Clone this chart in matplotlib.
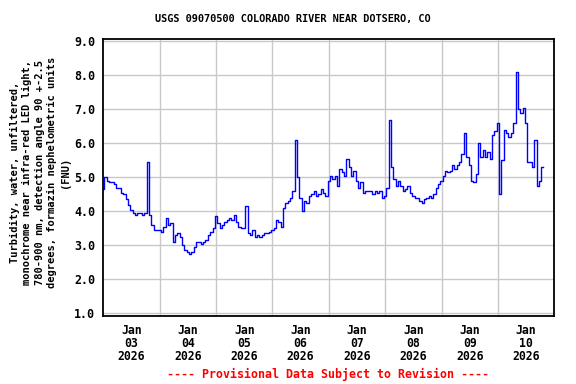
import matplotlib

matplotlib.use("Agg")
import matplotlib.dates as mdates
import matplotlib.pyplot as plt
import pandas as pd

# Hourly turbidity (FNU), one list per day.
jan03 = [4.65, 5.0, 4.9, 4.85, 4.85, 4.8, 4.7, 4.7, 4.55, 4.5, 4.35, 4.2,
	4.05, 3.95, 3.9, 3.95, 3.95, 3.9, 3.95, 5.45, 3.9, 3.6, 3.45, 3.45]
jan04 = [3.45, 3.4, 3.55, 3.8, 3.6, 3.65, 3.1, 3.3, 3.35, 3.25, 3.0, 2.85,
	2.8, 2.75, 2.8, 2.95, 3.1, 3.1, 3.05, 3.1, 3.15, 3.3, 3.4, 3.5]
jan05 = [3.85, 3.65, 3.5, 3.6, 3.7, 3.75, 3.8, 3.75, 3.9, 3.7, 3.55, 3.5,
	3.5, 4.15, 3.35, 3.3, 3.45, 3.25, 3.3, 3.25, 3.3, 3.35, 3.35, 3.4]
jan06 = [3.45, 3.5, 3.75, 3.7, 3.55, 4.1, 4.25, 4.3, 4.4, 4.6, 6.1, 5.0,
	4.4, 4.0, 4.3, 4.25, 4.45, 4.5, 4.6, 4.45, 4.5, 4.65, 4.55, 4.45]
jan07 = [4.9, 5.05, 4.95, 5.05, 4.75, 5.25, 5.15, 5.05, 5.55, 5.3, 5.05, 5.2,
	4.9, 4.7, 4.85, 4.55, 4.6, 4.6, 4.6, 4.5, 4.6, 4.55, 4.6, 4.4]
jan08 = [4.45, 4.7, 6.7, 5.3, 4.95, 4.75, 4.9, 4.75, 4.6, 4.65, 4.75, 4.55,
	4.45, 4.4, 4.4, 4.3, 4.25, 4.35, 4.4, 4.45, 4.4, 4.5, 4.7, 4.8]
jan09 = [4.9, 5.05, 5.2, 5.15, 5.2, 5.35, 5.25, 5.35, 5.45, 5.7, 6.3, 5.6,
	5.35, 4.9, 4.85, 5.1, 6.0, 5.6, 5.8, 5.6, 5.75, 5.55, 6.25, 6.35]
jan10 = [6.6, 4.5, 5.5, 6.4, 6.3, 6.2, 6.3, 6.6, 8.1, 7.0, 6.9, 7.05,
	6.6, 5.45, 5.45, 5.3, 6.1, 4.75, 4.9, 5.3]

day_labels = ["Jan\n03\n2026", "Jan\n04\n2026", "Jan\n05\n2026", "Jan\n06\n2026",
	"Jan\n07\n2026", "Jan\n08\n2026", "Jan\n09\n2026", "Jan\n10\n2026"]
y_ticks = [1.0, 2.0, 3.0, 4.0, 5.0, 6.0, 7.0, 8.0, 9.0]

title = "USGS 09070500 COLORADO RIVER NEAR DOTSERO, CO"
ylabel = ("Turbidity, water, unfiltered,\n"
	"monochrome near infra-red LED light,\n"
	"780-900 nm, detection angle 90 +-2.5\n"
	"degrees, formazin nephelometric units\n"
	"(FNU)")
footer = "---- Provisional Data Subject to Revision ----"


def main():
	values = jan03 + jan04 + jan05 + jan06 + jan07 + jan08 + jan09 + jan10
	times = pd.date_range("2026-01-03 00:00", periods=len(values), freq="h")

	font = dict(family="DejaVu Sans Mono", weight="bold")

	fig = plt.figure(figsize=(5.76, 3.84), dpi=100)
	ax = fig.add_axes([0.1793, 0.1771, 0.783, 0.7213])

	ax.plot(times, values, color="#0000ff", linewidth=1.0, drawstyle="steps-mid")

	ax.set_xlim(pd.Timestamp("2026-01-03"), pd.Timestamp("2026-01-11"))
	ax.set_ylim(0.92, 9.07)

	noon = pd.date_range("2026-01-03 12:00", periods=len(day_labels), freq="D")
	midnight = pd.date_range("2026-01-04", periods=7, freq="D")
	ax.set_xticks(mdates.date2num(noon))
	ax.set_xticklabels(day_labels, fontsize=8.3, linespacing=1.0, **font)
	ax.set_xticks(mdates.date2num(midnight), minor=True)
	ax.set_yticks(y_ticks)
	ax.set_yticklabels([f"{v:.1f}" for v in y_ticks], fontsize=8.4, **font)

	ax.tick_params(axis="both", which="both", length=0)
	ax.tick_params(axis="x", pad=6)
	ax.tick_params(axis="y", pad=6)
	ax.grid(False, axis="x", which="major")
	ax.grid(True, axis="x", which="minor", color="#c8c8c8", linewidth=1.0)
	ax.grid(True, axis="y", which="major", color="#c8c8c8", linewidth=1.0)
	ax.set_axisbelow(True)
	for spine in ax.spines.values():
		spine.set_linewidth(1.3)
		spine.set_color("black")

	fig.text(0.508, 0.95, title, ha="center", va="center", fontsize=7.4, **font)
	fig.text(0.069, 0.552, ylabel, ha="center", va="center", rotation=90,
		multialignment="center", fontsize=7.5, linespacing=1.3, **font)
	fig.text(0.569, 0.026, footer, ha="center", va="center", color="red",
		fontsize=8.4, **font)

	fig.savefig("out.png", dpi=100)


if __name__ == "__main__":
	main()
